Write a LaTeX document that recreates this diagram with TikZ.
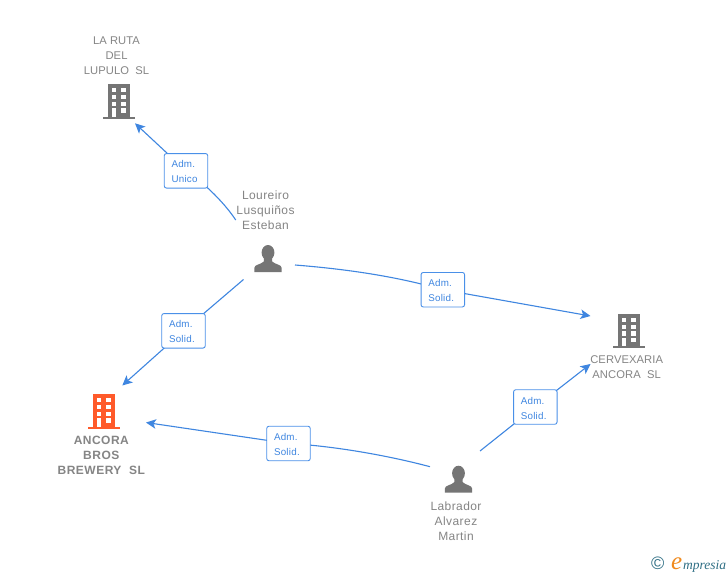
\documentclass[tikz,border=0pt]{standalone}
\usepackage{fontspec}
\usetikzlibrary{arrows.meta,backgrounds}
\setmainfont{Liberation Sans}
\newfontfamily\namefont[LetterSpace=3.5]{Liberation Sans}
\newfontfamily\capsfont[LetterSpace=0.8]{Liberation Sans}
\newfontfamily\boldfont[LetterSpace=4,BoldFont={Liberation Sans Bold}]{Liberation Sans}
\newfontfamily\tagfont[LetterSpace=2.5]{Liberation Sans}
\newfontfamily\logofont{Liberation Serif}
\newcommand{\tagtop}{\rule{0pt}{9.2pt}}
\definecolor{linkblue}{HTML}{3F86E0}
\definecolor{tagborder}{HTML}{4A90E8}
\definecolor{txtgray}{HTML}{858585}
\definecolor{icongray}{HTML}{757575}
\definecolor{iconorange}{HTML}{FF5A2A}
\definecolor{logoteal}{HTML}{2F6F85}
\definecolor{logoorange}{HTML}{F08A1D}
\tikzset{
  pics/buildingicon/.style={code={
    \fill[#1] (-11.2,0) rectangle (11.2,32.4);
    \fill[#1] (-16,32.4) rectangle (16,34.4);
    \fill[white] (-7,4) rectangle (-3,8);
    \fill[white] (2.4,4) rectangle (7,8);
    \fill[white] (-7,10.7) rectangle (-3,15);
    \fill[white] (2.4,10.7) rectangle (7,15);
    \fill[white] (-7,17.4) rectangle (-3,21.7);
    \fill[white] (2.4,17.4) rectangle (7,21.7);
    \fill[white] (-7,23.7) rectangle (-3,32.4);
    \fill[white] (2.4,23.7) rectangle (7,28.4);
  }},
  pics/personicon/.style={code={
    \fill[icongray] (0,7.6) ellipse [x radius=6.4, y radius=7.6];
    \fill[icongray] (-13.7,27) -- (-13.7,23) .. controls (-13.7,19.5) and (-7,19.5) .. (-4.2,16.5)
      -- (-4.2,12) -- (4.2,12) -- (4.2,16.5) .. controls (7,19.5) and (13.7,19.5) .. (13.7,23)
      -- (13.7,27) -- cycle;
  }},
  namelabel/.style={font=\namefont\fontsize{12}{15}\selectfont, text=txtgray, align=center, inner sep=0pt, anchor=north},
  capslabel/.style={font=\capsfont\fontsize{11.2}{15}\selectfont, text=txtgray, align=center, inner sep=0pt, anchor=north},
  boldlabel/.style={font=\boldfont\bfseries\fontsize{12}{15}\selectfont, text=txtgray, align=center, inner sep=0pt, anchor=north},
  tagbox/.style={draw=tagborder, line width=0.9pt, fill=white, rounded corners=2.2pt,
    minimum width=43.5pt, minimum height=34.5pt, text width=29pt, inner sep=0pt, align=left,
    text=linkblue, font=\tagfont\fontsize{9.8}{15}\selectfont},
  link/.style={draw=linkblue, line width=1.1pt},
  linkarrow/.style={link, -{Stealth[length=10pt,width=9.5pt,inset=2.5pt]}},
}
\begin{document}
\begin{tikzpicture}[x=1pt,y=-1pt]
\useasboundingbox (0,0) rectangle (728,575);

% icons
\pic (bRuta) at (118.7,84.3) {buildingicon=icongray};
\pic (bCerv) at (628.8,314) {buildingicon=icongray};
\pic (bAnco) at (103.7,394.3) {buildingicon=iconorange};
\pic (pLour) at (268,245) {personicon};
\pic (pLabr) at (458.5,465.7) {personicon};

% names
\node[capslabel] (nRuta) at (116.5,36.7) {LA RUTA\\DEL\\LUPULO\ \ SL};
\node[namelabel] (nLour) at (265.5,191) {Loureiro\\Lusquiños\\Esteban};
\node[capslabel] (nCerv) at (626.7,355.3) {CERVEXARIA\\ANCORA\ \ SL};
\node[boldlabel] (nAnco) at (101.3,436) {ANCORA\\BROS\\BREWERY\ \ SL};
\node[namelabel] (nLabr) at (456,502) {Labrador\\Alvarez\\Martin};

% tags
\node[tagbox] (t1) at (186,170.8) {\tagtop Adm.\\Unico};
\node[tagbox] (t2) at (442.8,289.7) {\tagtop Adm.\\Solid.};
\node[tagbox] (t3) at (183.5,330.8) {\tagtop Adm.\\Solid.};
\node[tagbox] (t4) at (288.5,443.5) {\tagtop Adm.\\Solid.};
\node[tagbox] (t5) at (535.3,407) {\tagtop Adm.\\Solid.};

% connector ends
\coordinate (s1) at (235.7,220);
\coordinate (e1) at (135,123.3);
\coordinate (s2) at (295,265);
\coordinate (e2) at (590.5,316);
\coordinate (s3) at (243.5,279.5);
\coordinate (e3) at (122.3,385.5);
\coordinate (s4) at (430,466.7);
\coordinate (e4) at (146,422.5);
\coordinate (s5) at (480,451);
\coordinate (e5) at (590.5,364);

\begin{scope}[on background layer]
  \fill[white] (0,0) rectangle (728,575);
  \draw[link] (s1) .. controls (226,205) and (206,184) .. (t1.center);
  \draw[linkarrow] (t1.center) -- (e1);
  \draw[link] (s2) .. controls (345,269) and (395,276) .. (t2.center);
  \draw[linkarrow] (t2.center) -- (e2);
  \draw[link] (s3) -- (t3.center);
  \draw[linkarrow] (t3.center) -- (e3);
  \draw[link] (s4) .. controls (390,456) and (335,446) .. (t4.center);
  \draw[linkarrow] (t4.center) -- (e4);
  \draw[link] (s5) -- (t5.center);
  \draw[linkarrow] (t5.center) -- (e5);
\end{scope}

% logo
\node[inner sep=0pt, text=logoteal, font=\fontsize{18}{18}\selectfont] (lc) at (657.7,563.5) {©};
\node[inner sep=0pt, text=logoorange, anchor=base west, font=\logofont\itshape\fontsize{25}{25}\selectfont] (le) at (671,569) {e};
\node[inner sep=0pt, text=logoteal, anchor=base west, font=\logofont\itshape\fontsize{13.5}{14}\selectfont] (lm) at (683,569) {mpresia};
\end{tikzpicture}
\end{document}
